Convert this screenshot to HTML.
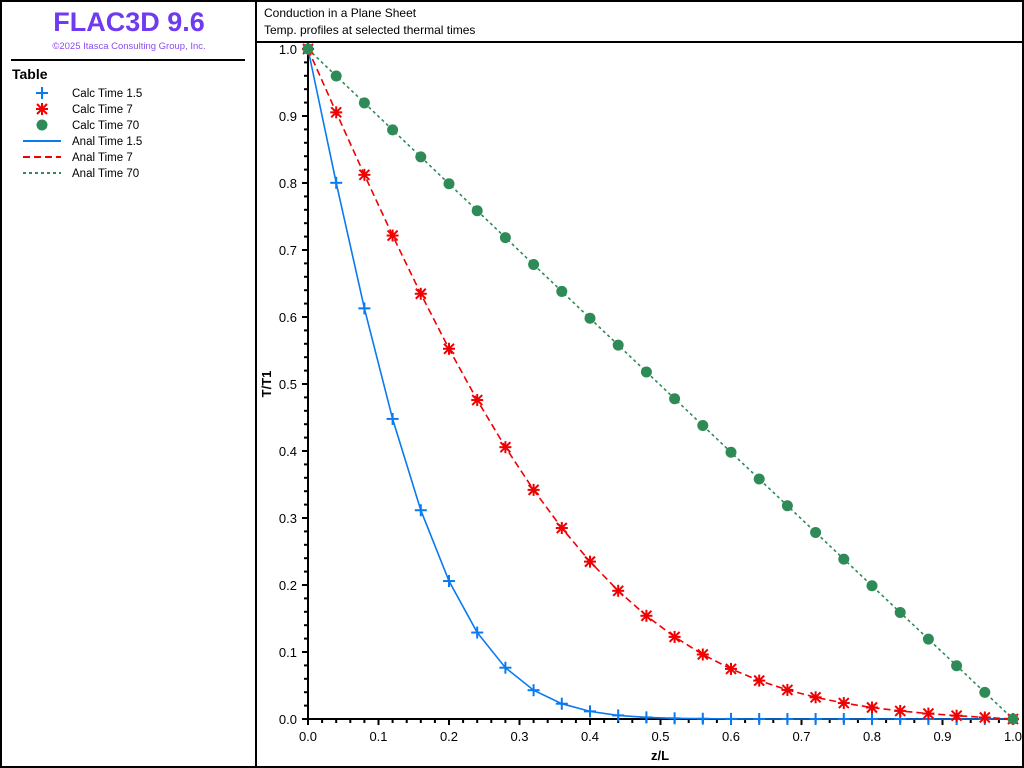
<!DOCTYPE html>
<html><head><meta charset="utf-8"><style>
body{margin:0;background:#fff;}
svg{display:block;font-family:"Segoe UI","Liberation Sans",sans-serif;}
</style></head><body>
<svg id="s" width="1024" height="768" xmlns="http://www.w3.org/2000/svg">
<rect x="1" y="1" width="1022" height="766" fill="#fff" stroke="#000" stroke-width="2"/>
<line x1="256" y1="0" x2="256" y2="768" stroke="#000" stroke-width="2"/>
<line x1="256" y1="42" x2="1024" y2="42" stroke="#000" stroke-width="2"/>
<line x1="11" y1="60" x2="245" y2="60" stroke="#000" stroke-width="2"/>
<text x="129" y="31" text-anchor="middle" font-size="27" font-weight="bold" fill="#6e3bf0">FLAC3D 9.6</text>
<text x="129" y="49" text-anchor="middle" font-size="9.5" fill="#8c4cf0">©2025 Itasca Consulting Group, Inc.</text>
<text x="12" y="79" font-size="14" font-weight="bold">Table</text>
<g font-size="11.5" fill="#000">
<text x="72" y="97">Calc Time 1.5</text>
<text x="72" y="113">Calc Time 7</text>
<text x="72" y="129">Calc Time 70</text>
<text x="72" y="145">Anal Time 1.5</text>
<text x="72" y="161">Anal Time 7</text>
<text x="72" y="177">Anal Time 70</text>
</g>
<g stroke="#0a7af0" stroke-width="2"><line x1="42" y1="87" x2="42" y2="99"/><line x1="36" y1="93" x2="48" y2="93"/></g>
<g stroke="#f00000" stroke-width="2"><line x1="42" y1="103" x2="42" y2="115"/><line x1="36" y1="109" x2="48" y2="109"/><line x1="37" y1="104" x2="47" y2="114"/><line x1="47" y1="104" x2="37" y2="114"/></g>
<circle cx="42" cy="125" r="5.5" fill="#2e8b57"/>
<line x1="23" y1="141" x2="61" y2="141" stroke="#0a7af0" stroke-width="2"/>
<line x1="23" y1="157" x2="61" y2="157" stroke="#f00000" stroke-width="2" stroke-dasharray="7,4"/>
<line x1="23" y1="173" x2="61" y2="173" stroke="#2e8b57" stroke-width="2" stroke-dasharray="3,3"/>
<text x="264" y="17" font-size="12">Conduction in a Plane Sheet</text>
<text x="264" y="34" font-size="12">Temp. profiles at selected thermal times</text>
<text x="660" y="760" text-anchor="middle" font-size="13" font-weight="bold">z/L</text>
<text transform="translate(271,384) rotate(-90)" text-anchor="middle" font-size="13" font-weight="bold">T/T1</text>
<g font-size="13" text-anchor="end">
<text x="297" y="724">0.0</text><text x="297" y="657">0.1</text><text x="297" y="590">0.2</text><text x="297" y="523">0.3</text><text x="297" y="456">0.4</text><text x="297" y="389">0.5</text><text x="297" y="322">0.6</text><text x="297" y="255">0.7</text><text x="297" y="188">0.8</text><text x="297" y="121">0.9</text><text x="297" y="54">1.0</text>
</g>
<g font-size="13" text-anchor="middle">
<text x="308" y="741">0.0</text><text x="378.5" y="741">0.1</text><text x="449" y="741">0.2</text><text x="519.5" y="741">0.3</text><text x="590" y="741">0.4</text><text x="660.5" y="741">0.5</text><text x="731" y="741">0.6</text><text x="801.5" y="741">0.7</text><text x="872" y="741">0.8</text><text x="942.5" y="741">0.9</text><text x="1013" y="741">1.0</text>
</g>
<g id="ax" stroke="#000" stroke-width="2">
<line x1="308" y1="46" x2="308" y2="720"/><line x1="307" y1="719" x2="1016" y2="719"/>
</g>
<g id="plot"></g>
</svg>
<script>
var ns="http://www.w3.org/2000/svg",ax=document.getElementById("ax"),pl=document.getElementById("plot");
function el(t,a,p){var e=document.createElementNS(ns,t);for(var k in a)e.setAttribute(k,a[k]);(p||pl).appendChild(e);return e;}
for(var i=0;i<=50;i++){var x=308+i*705/50;el("line",{x1:x,y1:719,x2:x,y2:i%5?723:725},ax);var y=719-i*670/50;el("line",{x1:i%5?304:302,y1:y,x2:308,y2:y},ax);}
function X(z){return 308+z*705;}function Y(t){return 719-t*670;}
function T(z,kt){var s=1-z;for(var n=1;n<400;n++)s-=2/Math.PI/n*Math.sin(n*Math.PI*z)*Math.exp(-n*n*Math.PI*Math.PI*kt);return z==0?1:Math.max(0,s);}
var KB=0.0125,KR=0.0567,KG=0.583;
var ser=[[KB,"#0a7af0","none"],[KR,"#f00000","7,4"],[KG,"#2e8b57","3,3"]];
ser.forEach(function(s){var d="";for(var i=0;i<=25;i++){var z=i*0.04;d+=(i?"L":"M")+X(z).toFixed(1)+","+Y(T(z,s[0])).toFixed(1);}
el("path",{d:d,fill:"none",stroke:s[1],"stroke-width":1.6,"stroke-dasharray":s[2]});});
for(var i=0;i<=25;i++){var z=i*0.04,x=X(z);
var y=Y(T(z,KB));var g=el("g",{stroke:"#0a7af0","stroke-width":2});el("line",{x1:x,y1:y-6,x2:x,y2:y+6},g);el("line",{x1:x-6,y1:y,x2:x+6,y2:y},g);
y=Y(T(z,KR));g=el("g",{stroke:"#f00000","stroke-width":2});el("line",{x1:x,y1:y-6,x2:x,y2:y+6},g);el("line",{x1:x-6,y1:y,x2:x+6,y2:y},g);el("line",{x1:x-5,y1:y-5,x2:x+5,y2:y+5},g);el("line",{x1:x+5,y1:y-5,x2:x-5,y2:y+5},g);
y=Y(T(z,KG));el("circle",{cx:x,cy:y,r:5.5,fill:"#2e8b57"});}
</script>
</body></html>
